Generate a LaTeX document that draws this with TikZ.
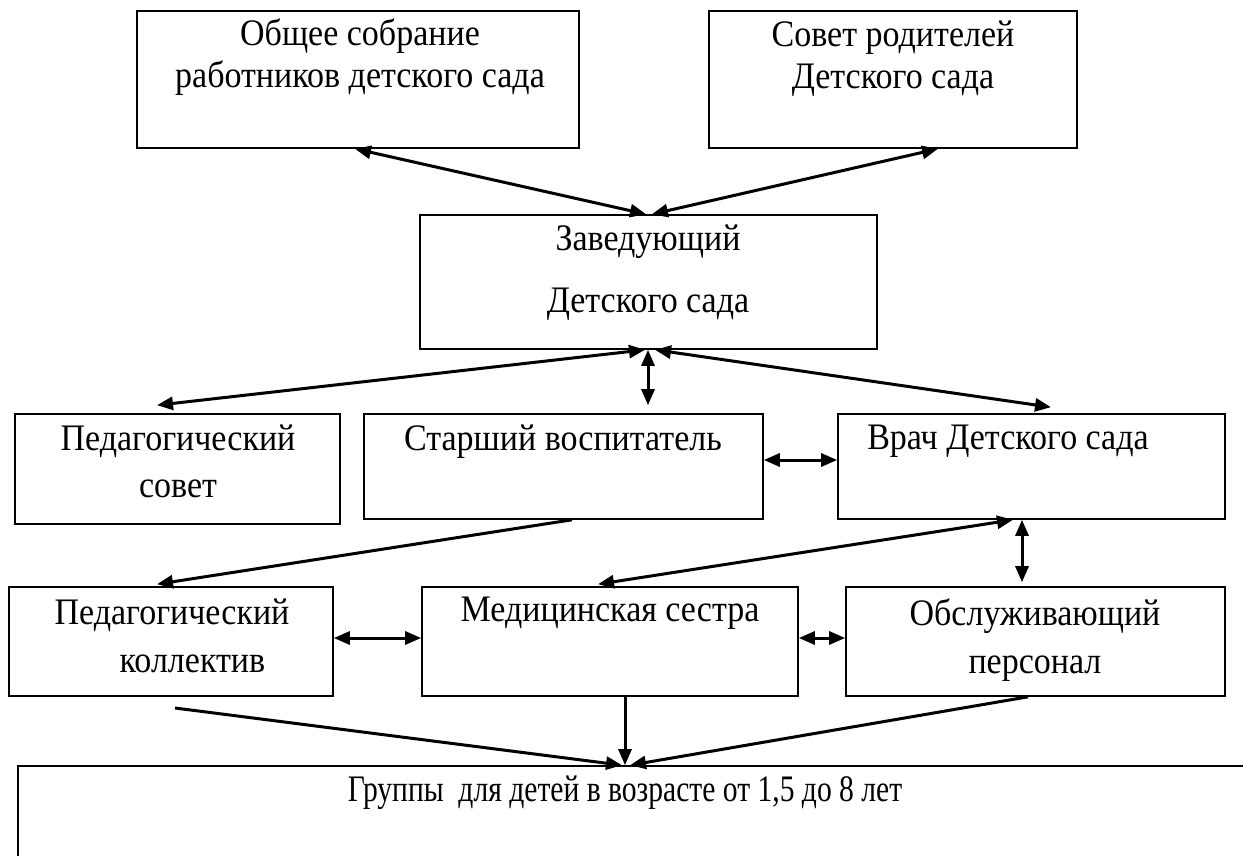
\documentclass[tikz,border=0pt]{standalone}
\usepackage{fontspec}
\setmainfont{Liberation Serif}
\usetikzlibrary{arrows.meta,fit,calc}
\newcommand\vl[1]{\scalebox{1}[1.1]{#1}}
\tikzset{
  box/.style={draw, line width=1.6bp, inner sep=0pt},
  txt/.style={inner sep=0pt, align=center, font=\fontsize{34bp}{42bp}\selectfont, anchor=north},
  tip/.tip={Triangle[length=16bp,width=13bp]},
  con/.style={line width=3bp, -tip},
  dcon/.style={line width=3bp, tip-tip}
}
\begin{document}
\begin{tikzpicture}[x=1bp,y=-1bp]
\useasboundingbox (0,0) rectangle (1243,856);
\clip (0,0) rectangle (1243,856);
% boxes
\node[box, fit={(137,11)(579,148)}] (A) {};
\node[box, fit={(709,11)(1077,148)}] (B) {};
\node[box, fit={(420,215)(877,349)}] (C) {};
\node[box, fit={(15,414)(340,524)}] (D) {};
\node[box, fit={(364,414)(763,519)}] (E) {};
\node[box, fit={(838,414)(1225,519)}] (F) {};
\node[box, fit={(9,587)(333,696)}] (G) {};
\node[box, fit={(422,587)(798,696)}] (H) {};
\node[box, fit={(846,587)(1225,696)}] (I) {};
\node[box, fit={(18,766)(1260,880)}] (J) {};
% texts
\node[txt] (At) at (360,19) {\vl{Общее собрание}\\\vl{работников детского сада}};
\node[txt] (Bt) at (893,21) {\vl{Совет родителей}\\\vl{Детского сада}};
\node[txt, font=\fontsize{34bp}{62bp}\selectfont] (Ct) at (648,225) {\vl{Заведующий}\\\vl{Детского сада}};
\node[txt, font=\fontsize{34bp}{47bp}\selectfont] (Dt) at (178,425) {\vl{Педагогический}\\\vl{совет}};
\node[txt] (Et) at (563,425) {\vl{Старший воспитатель}};
\node[txt] (Ft) at (1008,425) {\vl{Врач Детского сада}};
\node[txt, font=\fontsize{34bp}{48bp}\selectfont] (Gt) at (172,599) {\vl{Педагогический}\\\hspace*{1.2em}\vl{коллектив}};
\node[txt] (Ht) at (610,597) {\vl{Медицинская сестра}};
\node[txt, font=\fontsize{34bp}{48bp}\selectfont] (It) at (1035,599) {\vl{Обслуживающий}\\\vl{персонал}};
\node[txt, anchor=north] (Jt) at (625,776) {\scalebox{0.87}[1.1]{Группы\ \ для детей в возрасте от 1,5 до 8 лет}};
% connectors
\coordinate (g0) at (175,708);
\draw[dcon] (355,0 |- A.south) -- (646,0 |- C.north);
\draw[dcon] (938,0 |- B.south) -- (652,0 |- C.north);
\draw[dcon] (645,0 |- C.south) -- ($(157,0 |- D.north)+(0,-8)$);
\draw[dcon] (648,0 |- C.south) -- ($(648,0 |- E.north)+(0,-8)$);
\draw[dcon] (655,0 |- C.south) -- ($(1051,0 |- F.north)+(0,-6)$);
\draw[dcon] (0,460 -| E.east) -- (0,460 -| F.west);
\draw[con] (572,0 |- E.south) -- ($(157,0 |- G.north)+(0,-2)$);
\draw[dcon] (1013,0 |- F.south) -- ($(598,0 |- H.north)+(0,-2)$);
\draw[dcon] (1022,0 |- F.south) -- ($(1022,0 |- I.north)+(0,-4)$);
\draw[dcon] (0,638 -| G.east) -- (0,638 -| H.west);
\draw[dcon] (0,638 -| H.east) -- (0,638 -| I.west);
\draw[con] (g0) -- (622,0 |- J.north);
\draw[con] (625,0 |- H.south) -- (625,0 |- J.north);
\draw[con] (1028,0 |- I.south) -- (630,0 |- J.north);
\end{tikzpicture}
\end{document}
